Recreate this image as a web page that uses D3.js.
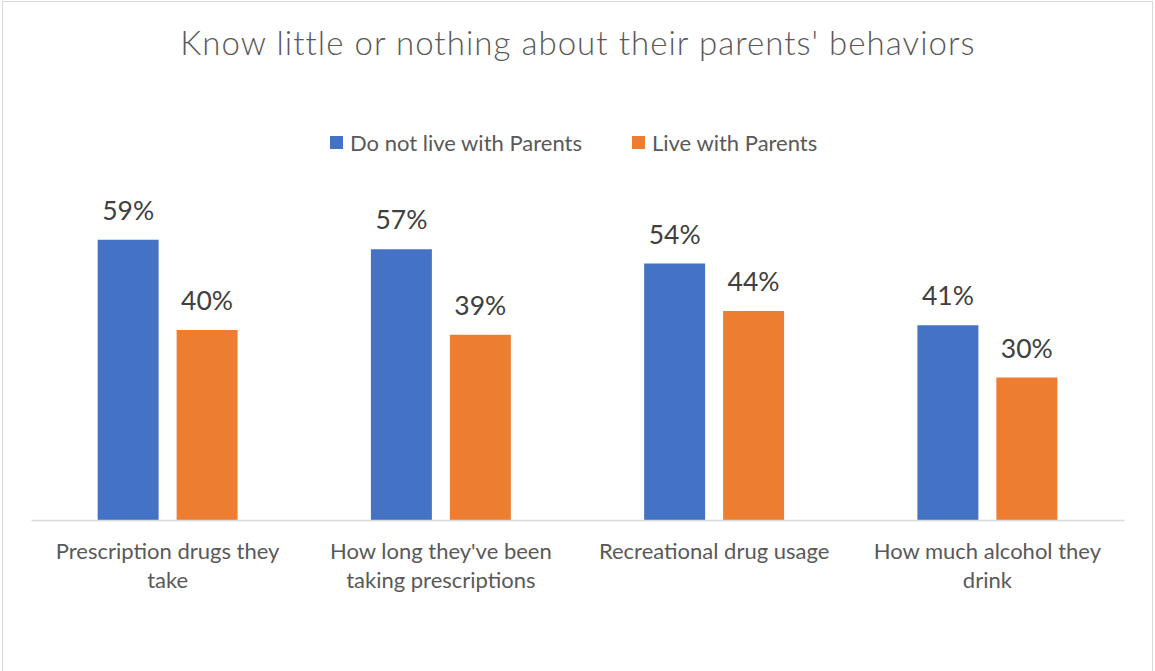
<!DOCTYPE html>
<html>
<head>
<meta charset="utf-8">
<script src="https://cdn.jsdelivr.net/npm/d3@7"></script>
<style>
  html, body { margin: 0; padding: 0; background: #fff; }
  svg { display: block; font-family: Lato, "Open Sans", sans-serif; }
</style>
</head>
<body>
<svg id="chart" width="1155" height="671"></svg>
<script>
// Survey: share who know little or nothing about their parents' behaviors
const categories = [
  "Prescription drugs they take",
  "How long they've been taking prescriptions",
  "Recreational drug usage",
  "How much alcohol they drink"
];
const seriesNames = ["Do not live with Parents", "Live with Parents"];
const notLiveWithParents = [0.59, 0.57, 0.54, 0.41];
const liveWithParents = [0.40, 0.39, 0.44, 0.30];
const seriesColors = ["#4472C4", "#ED7D31"];
const titleText = "Know little or nothing about their parents' behaviors";

const seriesValues = [notLiveWithParents, liveWithParents];
const rows = categories.map((c, i) => ({
  category: c,
  values: seriesNames.map((s, j) => ({ series: s, value: seriesValues[j][i], color: seriesColors[j] }))
}));

const svg = d3.select("#chart");

// chart frame
svg.append("rect")
  .attr("x", 2.5).attr("y", 1.5)
  .attr("width", 1150).attr("height", 680)
  .attr("fill", "#fff").attr("stroke", "#d9d9d9").attr("stroke-width", 1);

// title
svg.append("text")
  .attr("x", 578).attr("y", 55)
  .attr("text-anchor", "middle")
  .attr("fill", "#595959")
  .attr("font-size", 33)
  .attr("font-weight", 300)
  .attr("letter-spacing", 1.05)
  .text(titleText);

// plot area
const plot = { left: 31, right: 1124, top: 187.5, bottom: 520 };

const x0 = d3.scaleBand()
  .domain(categories)
  .range([plot.left, plot.right])
  .paddingInner(0).paddingOuter(0);

const x1 = d3.scaleBand()
  .domain(seriesNames)
  .range([0, x0.bandwidth()])
  .paddingInner(0.228)
  .paddingOuter(0.844);

const y = d3.scaleLinear()
  .domain([0, 0.7])
  .range([plot.bottom, plot.top]);

// bars
const groups = svg.append("g").selectAll("g")
  .data(rows)
  .join("g")
  .attr("transform", d => `translate(${x0(d.category)},0)`);

groups.selectAll("rect")
  .data(d => d.values)
  .join("rect")
  .attr("x", d => x1(d.series))
  .attr("y", d => y(d.value))
  .attr("width", x1.bandwidth())
  .attr("height", d => y(0) - y(d.value))
  .attr("fill", d => d.color);

// data labels
groups.selectAll("text.val")
  .data(d => d.values)
  .join("text")
  .attr("class", "val")
  .attr("x", d => x1(d.series) + x1.bandwidth() / 2)
  .attr("y", d => y(d.value) - 20)
  .attr("text-anchor", "middle")
  .attr("fill", "#404040")
  .attr("font-size", 26.5)
  .text(d => d3.format(".0%")(d.value));

// category axis
const xAxis = d3.axisBottom(x0).tickSize(0).tickPadding(0);
const axisG = svg.append("g")
  .attr("transform", `translate(0,${plot.bottom})`)
  .call(xAxis);
axisG.select(".domain").attr("stroke", "#d9d9d9").attr("stroke-width", 1.5);
axisG.selectAll(".tick text")
  .attr("fill", "#595959")
  .attr("font-size", 22)
  .attr("font-family", "Lato, 'Open Sans', sans-serif")
  .attr("dy", null)
  .attr("y", 39)
  .call(wrap, 250);

function wrap(sel, width) {
  sel.each(function () {
    const text = d3.select(this);
    const words = text.text().split(/\s+/);
    const yPos = +text.attr("y");
    text.text(null);
    let line = [];
    let lineNo = 0;
    let tspan = text.append("tspan").attr("x", 0).attr("y", yPos);
    words.forEach(w => {
      line.push(w);
      tspan.text(line.join(" "));
      if (tspan.node().getComputedTextLength() > width && line.length > 1) {
        line.pop();
        tspan.text(line.join(" "));
        line = [w];
        lineNo++;
        tspan = text.append("tspan").attr("x", 0).attr("y", yPos + lineNo * 29).text(w);
      }
    });
  });
}

// legend
const legendItems = [
  { name: seriesNames[0], color: seriesColors[0], x: 330 },
  { name: seriesNames[1], color: seriesColors[1], x: 632 }
];
const lg = svg.append("g").selectAll("g")
  .data(legendItems)
  .join("g")
  .attr("transform", d => `translate(${d.x},136)`);
lg.append("rect").attr("width", 13).attr("height", 13).attr("fill", d => d.color);
lg.append("text")
  .attr("x", 20).attr("y", 14.5)
  .attr("fill", "#595959")
  .attr("font-size", 22)
  .text(d => d.name);
</script>
</body>
</html>
